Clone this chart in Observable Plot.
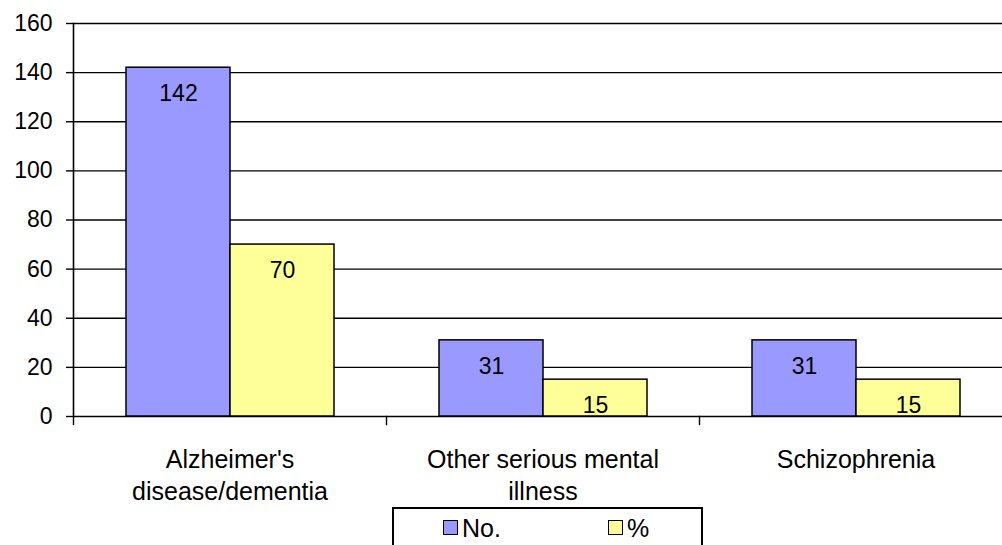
<!DOCTYPE html>
<html>
<head>
<meta charset="utf-8">
<script src="https://cdn.jsdelivr.net/npm/d3@7"></script>
<script src="https://cdn.jsdelivr.net/npm/@observablehq/plot@0.6"></script>
<style>
  html, body { margin: 0; padding: 0; background: #fff; overflow: hidden; }
  #wrap { position: relative; width: 1002px; height: 545px; overflow: hidden; font-family: "Liberation Sans", Arial, sans-serif; }
  #chart svg { max-width: none !important; }
  #legend { position: absolute; left: 392px; top: 507px; width: 311px; height: 60px; border: 2px solid #000; box-sizing: border-box; font-size: 25px; color: #000; }
  .sw { position: absolute; top: 11px; width: 15px; height: 15px; border: 1.5px solid #000; box-sizing: border-box; }
  .lb { position: absolute; top: 4px; line-height: 30px; }
</style>
</head>
<body>
<div id="wrap"><div id="chart"></div><div id="legend"></div></div>
<script>
const categories = ["Alzheimer's disease/dementia", "Other serious mental illness", "Schizophrenia"];
const categoryLines = ["Alzheimer's\ndisease/dementia", "Other serious mental\nillness", "Schizophrenia"];
const series = ["No.", "%"];
const noValues = [142, 31, 31];
const pctValues = [70, 15, 15];
const yTicks = [0, 20, 40, 60, 80, 100, 120, 140, 160];
const colors = ["#9999ff", "#ffff99"];

const data = categories.flatMap((c, i) => [
  {category: c, series: series[0], value: noValues[i]},
  {category: c, series: series[1], value: pctValues[i]}
]);

const chart = Plot.plot({
  width: 1012,
  height: 505,
  marginLeft: 73,
  marginRight: 0,
  marginTop: 23,
  marginBottom: 89,
  style: {fontFamily: "'Liberation Sans', Arial, sans-serif", fontSize: "23px", color: "#000", background: "#fff", overflow: "visible", maxWidth: "none"},
  fx: {domain: categories, padding: 0, axis: null},
  x: {domain: series, paddingInner: 0, paddingOuter: 0.5, axis: null},
  y: {domain: [0, 160], axis: null},
  color: {domain: series, range: colors},
  marks: [
    Plot.gridY(yTicks, {stroke: "#000", strokeOpacity: 1, strokeWidth: 1.4}),
    Plot.axisY(yTicks, {tickSize: 7, tickPadding: 14, fontSize: 23, label: null, stroke: "#000", strokeWidth: 1.4}),
    Plot.frame({anchor: "left", facetAnchor: "left", stroke: "#000", strokeWidth: 1.6}),
    Plot.frame({anchor: "left", insetTop: 393, insetBottom: -8, stroke: "#000", strokeWidth: 1.4}),
    Plot.barY(data, {fx: "category", x: "series", y: "value", fill: "series", stroke: "#000", strokeWidth: 1.5}),
    Plot.text(data, {fx: "category", x: "series", y: "value", text: d => String(d.value), dy: 26, lineAnchor: "middle", fontSize: 23, fill: "#000"}),
    Plot.text(categories, {fx: d => d, text: (d, i) => categoryLines[i], frameAnchor: "bottom", dy: 28, lineAnchor: "top", lineHeight: 1.3, fontSize: 25, fill: "#000"})
  ]
});
document.getElementById("chart").appendChild(chart);

const legend = document.getElementById("legend");
const swLeft = [49, 214];
series.forEach((s, i) => {
  const sw = document.createElement("div");
  sw.className = "sw";
  sw.style.left = swLeft[i] + "px";
  sw.style.background = colors[i];
  legend.appendChild(sw);
  const lb = document.createElement("div");
  lb.className = "lb";
  lb.style.left = (swLeft[i] + 19) + "px";
  lb.textContent = s;
  legend.appendChild(lb);
});
</script>
</body>
</html>
